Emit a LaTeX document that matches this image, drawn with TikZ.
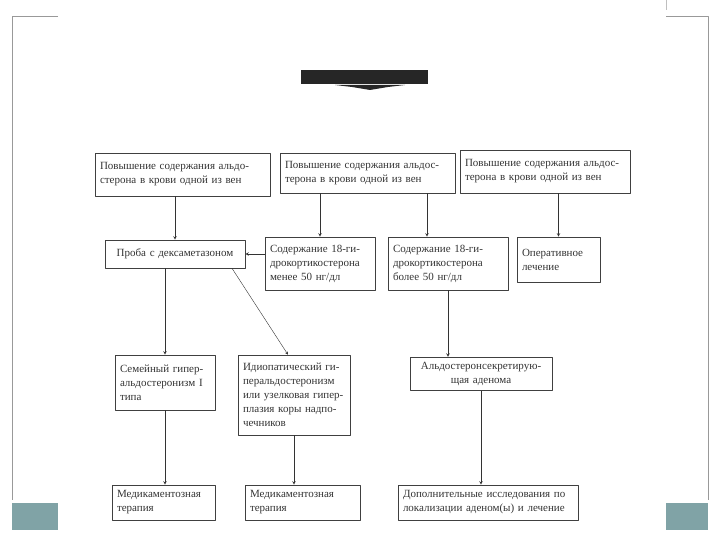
\documentclass[tikz,border=0pt]{standalone}
\usepackage{fontspec}
\setmainfont{Liberation Serif}
\usetikzlibrary{positioning}
\definecolor{slateteal}{RGB}{128,163,166}
\tikzset{
  box/.style={draw=black!75, line width=0.6pt, inner sep=5pt, align=left, font=\fontsize{11}{14}\selectfont, text=black!80},
  arr/.style={->, draw=black!80, line width=0.6pt},
}
\begin{document}
\begin{tikzpicture}[x=1pt, y=-1pt, >=stealth, line join=round]
\useasboundingbox (0,0) rectangle (720,540);
% slide frame
\draw[gray!80, line width=0.6pt] (58,16) -- (12,16) -- (12,500);
\draw[gray!80, line width=0.6pt] (666,16) -- (708,16) -- (708,500);
\draw[gray!50] (666,0) -- (666,10);
\fill[slateteal] (12,503) rectangle (58,530);
\fill[slateteal] (666,503) rectangle (708,530);
% title bar
\fill[black!85] (301,70) rectangle (428,84);
\fill[black!85] (335,85) -- (405,85) -- (388,87) -- (370,90) -- (352,87) -- cycle;
% row 1
\node[box, text width=165, minimum height=43] (b1) at (182.5,174.5) {Повышение содержания альдо-\\стерона в крови одной из вен};
\node[box, text width=165, minimum height=40] (b2) at (367.5,173) {Повышение содержания альдос-\\терона в крови одной из вен};
\node[box, text width=160, minimum height=43] (b3) at (545,171.5) {Повышение содержания альдос-\\терона в крови одной из вен};
% row 2
\node[box, text width=130, minimum height=28, align=center] (b4) at (175,254) {Проба с дексаметазоном};
\node[box, text width=100, minimum height=53] (b5) at (320,263.5) {Содержание 18-ги-\\дрокортикостерона\\менее 50 нг/дл};
\node[box, text width=110, minimum height=53] (b6) at (448,263.5) {Содержание 18-ги-\\дрокортикостерона\\более 50 нг/дл};
\node[box, text width=73, minimum height=45] (b7) at (558.5,259.5) {Оперативное\\лечение};
% row 3
\node[box, text width=90, minimum height=55] (b8) at (165,382.5) {Семейный гипер-\\альдостеронизм I\\типа};
\node[box, text width=102, minimum height=80] (b9) at (294,395) {Идиопатический ги-\\перальдостеронизм\\или узелковая гипер-\\плазия коры надпо-\\чечников};
\node[box, text width=132, minimum height=32, align=center] (b10) at (481,374) {Альдостеронсекретирую-\\щая аденома};
% row 4
\node[box, text width=93, minimum height=35] (b11) at (163.5,502.5) {Медикаментозная\\терапия};
\node[box, text width=105, minimum height=35] (b12) at (302.5,502.5) {Медикаментозная\\терапия};
\node[box, text width=170, minimum height=35] (b13) at (488,502.5) {Дополнительные исследования по\\локализации аденом(ы) и лечение};
% connectors
\draw[arr] (b1.south -| b4.north) -- (b4.north);
\draw[arr] (b2.south -| b5.north) -- (b5.north);
\draw[arr] (b2.south -| 427,0) -- (b6.north -| 427,0);
\draw[arr] (b3.south -| b7.north) -- (b7.north);
\draw[arr] (b5.west |- b4.east) -- (b4.east);
\draw[arr] (b4.south -| b8.north) -- (b8.north);
\draw[arr, line width=0.4pt] ([xshift=57pt]b4.south) -- ([xshift=-6pt]b9.north);
\draw[arr] (b6.south) -- (b6.south |- b10.north);
\draw[arr] (b8.south) -- (b8.south |- b11.north);
\draw[arr] (b9.south) -- (b9.south |- b12.north);
\draw[arr] (b10.south) -- (b10.south |- b13.north);
\end{tikzpicture}
\end{document}
